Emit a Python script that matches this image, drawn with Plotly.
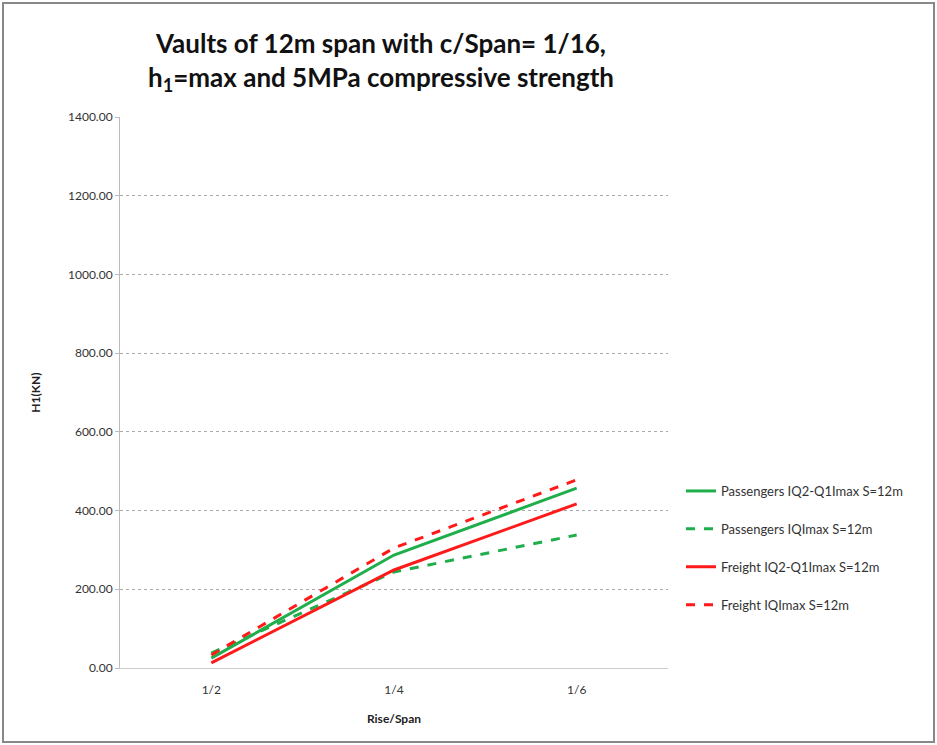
import plotly.graph_objects as go

categories = ["1/2", "1/4", "1/6"]
pass_iq2 = [25, 287, 457]
pass_iq = [38, 244, 338]
freight_iq2 = [13, 249, 417]
freight_iq = [33, 305, 478]
names = ["Passengers IQ2-Q1Imax S=12m", "Passengers IQImax S=12m",
         "Freight IQ2-Q1Imax S=12m", "Freight IQImax S=12m"]
y_ticks = [0, 200, 400, 600, 800, 1000, 1200, 1400]

font_fam = "Lato, Liberation Sans, sans-serif"
green = "#1fae4b"
red = "#ff1a1a"

W, H = 937, 745
L, R, T, B = 120, 269, 117, 77
pw, ph = W - L - R, H - T - B

fig = go.Figure()
series = [(pass_iq2, green, "solid"), (pass_iq, green, "dash"),
          (freight_iq2, red, "solid"), (freight_iq, red, "dash")]
for i, (vals, col, dash) in enumerate(series):
    fig.add_trace(go.Scatter(x=categories, y=vals, mode="lines", name=names[i],
                             legendgroup=str(i),
                             line=dict(color=col, width=3, dash=dash)))

fig.update_layout(
    width=W, height=H,
    margin=dict(l=L, r=R, t=T, b=B),
    paper_bgcolor="white", plot_bgcolor="white",
    font=dict(family=font_fam, size=12, color="#333"),
    title=dict(text="<b>Vaults of 12m span with c/Span= 1/16,<br>h<sub>1</sub>=max and 5MPa compressive strength</b>",
               x=381 / W, xanchor="center", xref="container",
               y=1 - 53 / H, yanchor="middle", yref="container",
               font=dict(family=font_fam, size=26, color="#111")),
    legend=dict(x=(681 - L) / pw, y=1 - (548 - T) / ph, xanchor="left", yanchor="middle",
                font=dict(size=13, color="#333"), tracegroupgap=18,
                bgcolor="rgba(0,0,0,0)"),
    showlegend=True,
)
fig.update_xaxes(
    type="category", range=[-0.5, 2.5],
    showgrid=False, showline=True, linecolor="#ccc", linewidth=1,
    ticks="", tickfont=dict(size=12, color="#333"), ticklabelstandoff=11,
    title=dict(text="<b>Rise/Span</b>", font=dict(size=12, color="#222"), standoff=18),
)
fig.update_yaxes(
    range=[0, 1400], tickvals=y_ticks, tickformat=".2f",
    showgrid=True, gridcolor="#aaa", griddash="dot", gridwidth=1,
    showline=True, linecolor="#bbb", linewidth=1,
    ticks="outside", ticklen=4, tickcolor="#bbb",
    tickfont=dict(size=12, color="#333"), zeroline=False,
    title=dict(text="<b>H1(KN)</b>", font=dict(size=12, color="#222"), standoff=24),
)
fig.add_shape(type="rect", xref="paper", yref="paper",
              x0=(3 - L) / pw, x1=(934 - L) / pw,
              y0=1 - (742 - T) / ph, y1=1 - (3 - T) / ph,
              line=dict(color="#888", width=2))

fig.write_html("out.html", config={"displayModeBar": False},
               post_script="document.body.style.margin='0';document.body.style.overflow='hidden';")
